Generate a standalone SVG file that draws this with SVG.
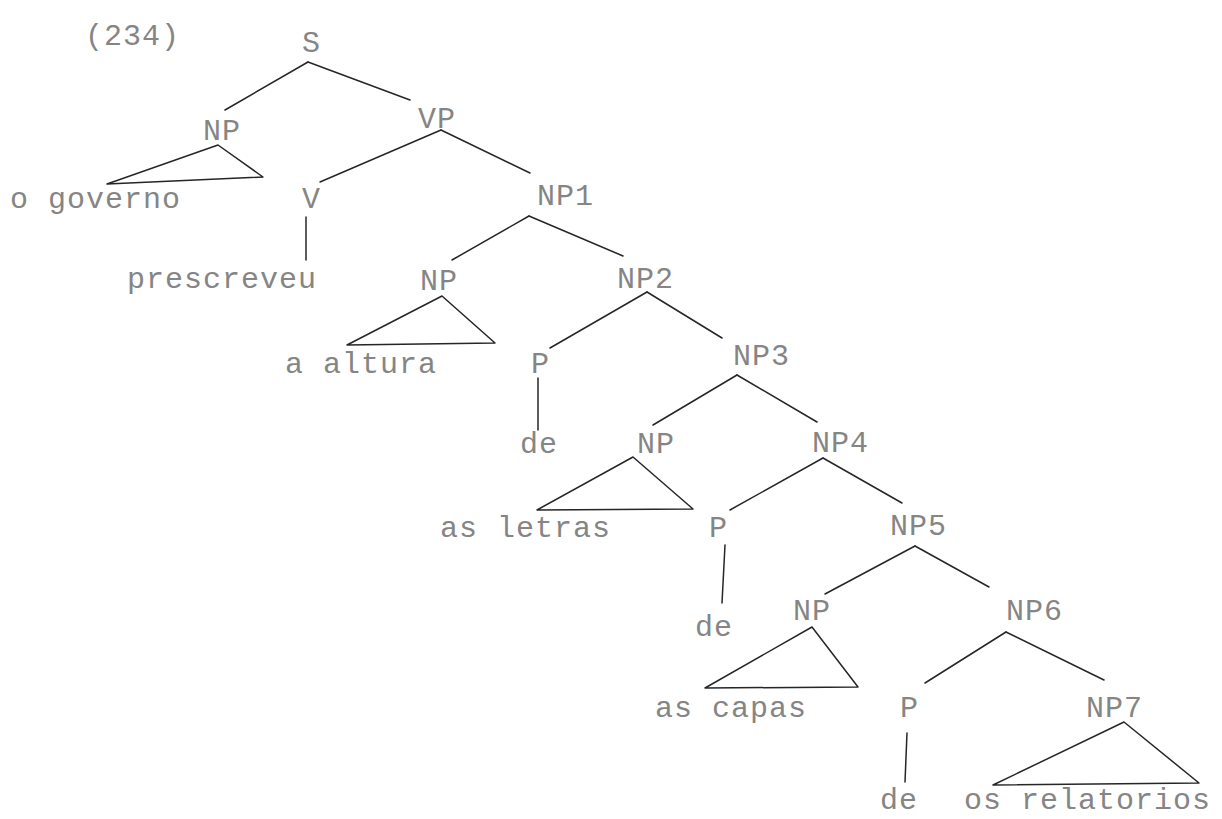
<svg xmlns="http://www.w3.org/2000/svg" width="1222" height="819" viewBox="0 0 1222 819">
<style>
text{font-family:"Liberation Mono","DejaVu Sans Mono",monospace;font-size:30px;letter-spacing:1px;fill:#858585}
.c line,.c polygon{stroke:#262626;stroke-width:1.5;fill:none;stroke-linecap:round;stroke-linejoin:round}
</style>
<rect width="1222" height="819" fill="#ffffff"/>
<text id="num" x="85" y="45">(234)</text>
<g class="c" id="connectors">
<line x1="308" y1="62" x2="225" y2="110"/>
<line x1="308" y1="62" x2="410" y2="100"/>
<polygon points="218,145 107,184 263,177"/>
<line x1="441" y1="130" x2="320" y2="182"/>
<line x1="441" y1="130" x2="530" y2="173"/>
<line x1="306" y1="217" x2="306" y2="260"/>
<line x1="529" y1="216" x2="452" y2="260"/>
<line x1="529" y1="216" x2="623" y2="256"/>
<polygon points="442,296 347,345 495,343"/>
<line x1="647" y1="292" x2="550" y2="348"/>
<line x1="647" y1="292" x2="722" y2="338"/>
<line x1="538" y1="378" x2="538" y2="430"/>
<line x1="737" y1="375" x2="653" y2="425"/>
<line x1="737" y1="375" x2="817" y2="422"/>
<polygon points="633,457 537,510 693,509"/>
<line x1="823" y1="458" x2="730" y2="510"/>
<line x1="823" y1="458" x2="902" y2="503"/>
<line x1="725" y1="545" x2="722" y2="603"/>
<line x1="915" y1="546" x2="825" y2="594"/>
<line x1="915" y1="546" x2="989" y2="587"/>
<polygon points="812,627 705,688 858,687"/>
<line x1="1006" y1="632" x2="925" y2="683"/>
<line x1="1006" y1="632" x2="1104" y2="680"/>
<line x1="907" y1="733" x2="905" y2="782"/>
<polygon points="1124,722 993,785 1199,783"/>
</g>
<g id="n-S"><text x="302" y="52">S</text></g>
<g id="n-NP-a"><text x="203" y="140">NP</text></g>
<g id="n-VP"><text x="418" y="128">VP</text></g>
<g id="l-governo"><text x="10" y="208">o governo</text></g>
<g id="n-V"><text x="302" y="208">V</text></g>
<g id="n-NP1"><text x="537" y="205">NP1</text></g>
<g id="l-prescreveu"><text x="127" y="288">prescreveu</text></g>
<g id="n-NP-b"><text x="420" y="290">NP</text></g>
<g id="n-NP2"><text x="617" y="288">NP2</text></g>
<g id="l-altura"><text x="285" y="373">a altura</text></g>
<g id="n-P-a"><text x="531" y="373">P</text></g>
<g id="n-NP3"><text x="733" y="365">NP3</text></g>
<g id="l-de-a"><text x="520" y="453">de</text></g>
<g id="n-NP-c"><text x="637" y="453">NP</text></g>
<g id="n-NP4"><text x="812" y="452">NP4</text></g>
<g id="l-letras"><text x="440" y="537">as letras</text></g>
<g id="n-P-b"><text x="709" y="537">P</text></g>
<g id="n-NP5"><text x="890" y="535">NP5</text></g>
<g id="l-de-b"><text x="695" y="636">de</text></g>
<g id="n-NP-d"><text x="793" y="620">NP</text></g>
<g id="n-NP6"><text x="1006" y="620">NP6</text></g>
<g id="l-capas"><text x="655" y="717">as capas</text></g>
<g id="n-P-c"><text x="900" y="717">P</text></g>
<g id="n-NP7"><text x="1086" y="717">NP7</text></g>
<g id="l-de-c"><text x="880" y="809">de</text></g>
<g id="l-relatorios"><text x="964" y="809">os relatorios</text></g>
</svg>
